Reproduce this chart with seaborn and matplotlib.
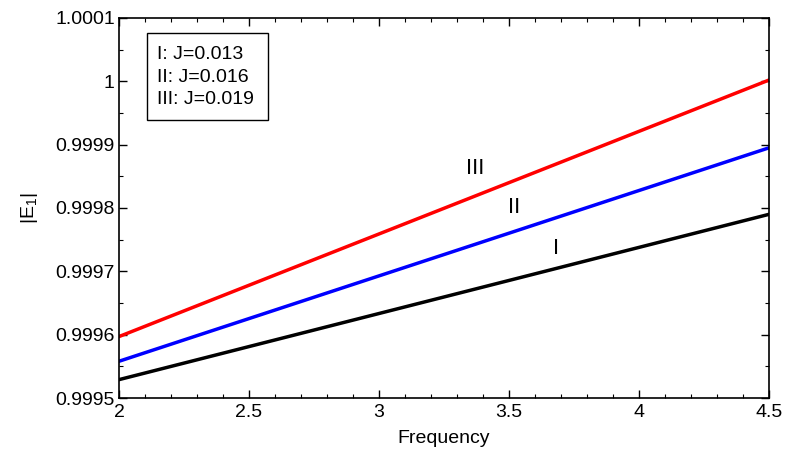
import matplotlib
matplotlib.use("Agg")
import matplotlib.pyplot as plt
import seaborn as sns
import pandas as pd
from matplotlib.patches import Rectangle
from matplotlib.ticker import FixedLocator, MultipleLocator

# Frequency sweep endpoints and |E1| for each coupling value
frequency = [2.0, 4.5]
e1_case_I = [0.999529, 0.999790]
e1_case_II = [0.999558, 0.999895]
e1_case_III = [0.999597, 1.000002]

case_names = ["I", "II", "III"]
j_values = ["0.013", "0.016", "0.019"]
line_colors = ["black", "blue", "red"]

y_ticks = [0.9995, 0.9996, 0.9997, 0.9998, 0.9999, 1.0, 1.0001]
y_tick_labels = ["0.9995", "0.9996", "0.9997", "0.9998", "0.9999", "1", "1.0001"]
x_ticks = [2, 2.5, 3, 3.5, 4, 4.5]
x_tick_labels = ["2", "2.5", "3", "3.5", "4", "4.5"]

# Label anchor positions for the curve tags
tag_x = [3.68, 3.52, 3.37]
tag_y = [0.999736, 0.999800, 0.999863]

sns.set_theme(style="ticks")
plt.rcParams["font.family"] = ["Liberation Sans", "DejaVu Sans"]
plt.rcParams["mathtext.fontset"] = "custom"
plt.rcParams["mathtext.rm"] = "Liberation Sans"
plt.rcParams["mathtext.it"] = "Liberation Sans"

df = pd.concat([
    pd.DataFrame({"Frequency": frequency, "E1": vals, "case": name})
    for name, vals in zip(case_names, [e1_case_I, e1_case_II, e1_case_III])
])

fig = plt.figure(figsize=(7.87, 4.53), dpi=100)
ax = fig.add_axes([0.1512, 0.1214, 0.9771 - 0.1512, 0.9603 - 0.1214])

sns.lineplot(data=df, x="Frequency", y="E1", hue="case",
             palette=dict(zip(case_names, line_colors)),
             linewidth=2.5, legend=False, ax=ax)

ax.set_xlim(2, 4.5)
ax.set_ylim(0.9995, 1.0001)
ax.xaxis.set_major_locator(FixedLocator(x_ticks))
ax.set_xticklabels(x_tick_labels)
ax.yaxis.set_major_locator(FixedLocator(y_ticks))
ax.set_yticklabels(y_tick_labels)
ax.xaxis.set_minor_locator(MultipleLocator(0.1))
ax.yaxis.set_minor_locator(MultipleLocator(0.00005))

ax.tick_params(which="both", direction="in", top=True, right=True,
               color="black", labelsize=14, labelcolor="black")
ax.tick_params(which="major", length=6, width=1)
ax.tick_params(which="minor", length=3, width=0.8)
ax.tick_params(axis="y", pad=3)
ax.tick_params(axis="x", pad=4)
for side in ax.spines.values():
    side.set_color("black")
    side.set_linewidth(1.2)

ax.set_xlabel("Frequency", fontsize=14, color="black", labelpad=7)
ax.set_ylabel(r"|E$_1$|", fontsize=14, color="black", labelpad=11)

for name, tx, ty in zip(case_names, tag_x, tag_y):
    ax.text(tx, ty, name, fontsize=16, ha="center", va="center", color="black")

# Key box listing the coupling values
ax.add_patch(Rectangle((0.043, 0.7316), 0.186, 0.229, transform=ax.transAxes,
                       facecolor="white", edgecolor="black", linewidth=1,
                       zorder=3))
legend_text = "\n".join(f"{n}: J={j}" for n, j in zip(case_names, j_values))
ax.text(0.058, 0.925, legend_text, transform=ax.transAxes, fontsize=14,
        va="top", ha="left", linespacing=1.4, color="black", zorder=4)

fig.savefig("out.png", dpi=100)
